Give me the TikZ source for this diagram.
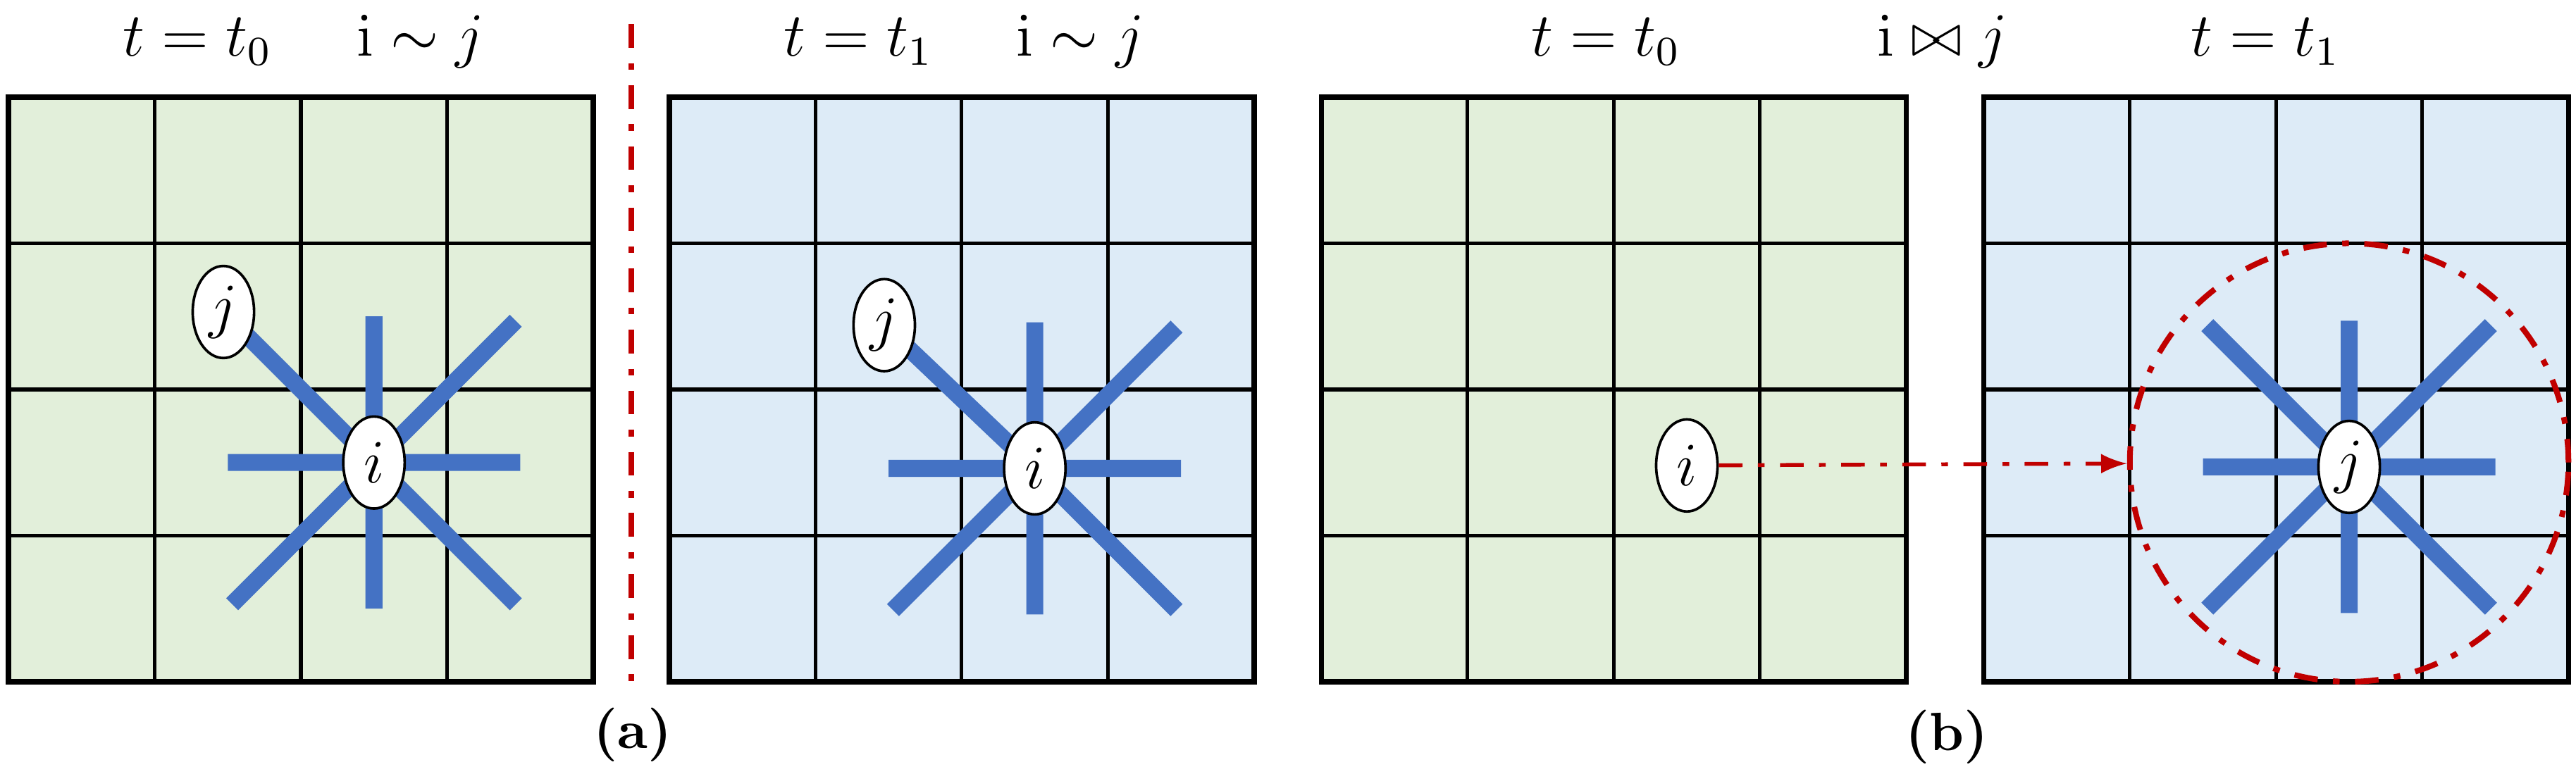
\documentclass[tikz,border=0pt]{standalone}
\usepackage{amsmath,amssymb}
\usepackage{tikz}
\usetikzlibrary{shapes,arrows,positioning}

\definecolor{cellgreen}{RGB}{226,239,218}
\definecolor{cellblue}{RGB}{221,235,247}
\definecolor{armblue}{RGB}{68,114,196}
\definecolor{darkred}{RGB}{192,0,0}

\begin{document}
\begin{tikzpicture}[
  font=\fontsize{11.5}{14}\selectfont,
  gridline/.style={
    draw=black,
    line width=0.7pt
  },
  panelframe/.style={
    draw=black,
    line width=1pt
  },
  arm/.style={
    draw=armblue,
    line width=3.3pt,
    line cap=butt
  },
  vertex/.style={
    ellipse,
    draw=black,
    line width=0.5pt,
    fill=white,
    inner sep=0pt,
    minimum width=0.42cm,
    minimum height=0.63cm
  },
  title/.style={
    anchor=base,
    inner sep=0pt
  },
  redline/.style={
    draw=darkred,
    line width=1.1pt,
    dash pattern=on 4.6pt off 3pt on 1.3pt off 3pt
  }
]

\useasboundingbox (-0.058,0.665) rectangle (17.562,-4.583);

% Titles
\node[title] (t1a) at (1.294,0.28) {$t = t_0$};
\node[title] (t1b) at (2.817,0.28) {$\mathrm{i} \sim j$};
\node[title] (t2a) at (5.815,0.28) {$t = t_1$};
\node[title] (t2b) at (7.330,0.28) {$\mathrm{i} \sim j$};
\node[title] (t3a) at (10.925,0.28) {$t = t_0$};
\node[title] (t3b) at (13.227,0.28) {$\mathrm{i} \bowtie j$};
\node[title] (t4a) at (15.436,0.28) {$t = t_1$};

% Panel 1: t0, i ~ j
\begin{scope}[xshift=0cm]
  \fill[cellgreen] (0,0) rectangle (4,-4);
  \draw[gridline] (0,-4) grid (4,0);
  \draw[panelframe] (0,0) rectangle (4,-4);
  \coordinate (ci1) at (2.5,-2.5);
  \coordinate (cj1) at (1.47,-1.47);
  \draw[arm] (ci1) -- ++(1,0) (ci1) -- ++(-1,0)
             (ci1) -- ++(0,1) (ci1) -- ++(0,-1)
             (ci1) -- ++(0.97,0.97) (ci1) -- ++(0.97,-0.97)
             (ci1) -- ++(-0.97,-0.97);
  \draw[arm] (ci1) -- (cj1);
  \node[vertex] (i1) at (ci1) {$i$};
  \node[vertex] (j1) at (cj1) {$j$};
\end{scope}

% Separator between (a) panels
\coordinate (septop) at (4.26,0.50);
\coordinate (sepbot) at (4.26,-4.01);
\draw[redline] (septop) -- (sepbot);

% Panel 2: t1, i ~ j
\begin{scope}[xshift=4.52cm]
  \fill[cellblue] (0,0) rectangle (4,-4);
  \draw[gridline] (0,-4) grid (4,0);
  \draw[panelframe] (0,0) rectangle (4,-4);
  \coordinate (ci2) at (2.5,-2.54);
  \coordinate (cj2) at (1.47,-1.56);
  \draw[arm] (ci2) -- ++(1,0) (ci2) -- ++(-1,0)
             (ci2) -- ++(0,1) (ci2) -- ++(0,-1)
             (ci2) -- ++(0.97,0.97) (ci2) -- ++(0.97,-0.97)
             (ci2) -- ++(-0.97,-0.97);
  \draw[arm] (ci2) -- (cj2);
  \node[vertex] (i2) at (ci2) {$i$};
  \node[vertex] (j2) at (cj2) {$j$};
\end{scope}

% Panel 3: t0, i alone
\begin{scope}[xshift=8.98cm]
  \fill[cellgreen] (0,0) rectangle (4,-4);
  \draw[gridline] (0,-4) grid (4,0);
  \draw[panelframe] (0,0) rectangle (4,-4);
  \node[vertex] (i3) at (2.5,-2.52) {$i$};
\end{scope}

% Panel 4: t1, j with its neighbourhood
\begin{scope}[xshift=13.51cm]
  \fill[cellblue] (0,0) rectangle (4,-4);
  \draw[gridline] (0,-4) grid (4,0);
  \draw[panelframe] (0,0) rectangle (4,-4);
  \node[circle, redline, minimum size=3cm, inner sep=0pt] (zone) at (2.5,-2.5) {};
  \coordinate (cj4) at (2.5,-2.53);
  \draw[arm] (cj4) -- ++(1,0) (cj4) -- ++(-1,0)
             (cj4) -- ++(0,1) (cj4) -- ++(0,-1)
             (cj4) -- ++(0.97,0.97) (cj4) -- ++(0.97,-0.97)
             (cj4) -- ++(-0.97,-0.97) (cj4) -- ++(-0.97,0.97);
  \node[vertex] (j4) at (cj4) {$j$};
\end{scope}

% Move of i into the neighbourhood of j
\draw[redline, line width=0.75pt, -latex] (i3) -- (zone);

% Sub-figure labels
\node[anchor=base, font=\fontsize{10.5}{12}\selectfont\bfseries] (capa) at (4.27,-4.458) {(a)};
\node[anchor=base, font=\fontsize{10.5}{12}\selectfont\bfseries] (capb) at (13.26,-4.47) {(b)};

\end{tikzpicture}
\end{document}
